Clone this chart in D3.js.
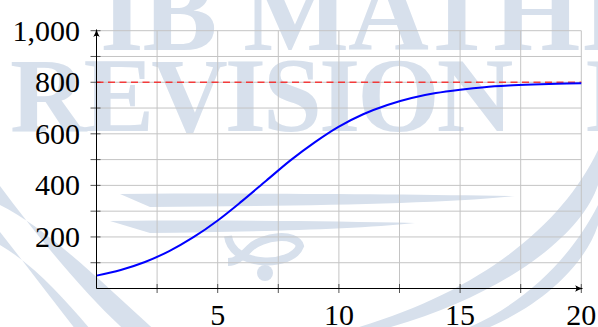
<!DOCTYPE html>
<html><head><meta charset="utf-8">
<script src="https://cdn.jsdelivr.net/npm/d3@7"></script>
<style>html,body{margin:0;padding:0;background:#fff;overflow:hidden}svg{display:block}</style>
</head><body>
<svg id="c" width="598" height="327"></svg>
<script>
// Data
const xValues = [0,1,2,3,4,5,6,7,8,9,10,11,12,13,14,15,16,17,18,19,20];
const yValues = [50,72,103,145,199,264,339,418,497,567,628,676,712,739,758,771,781,787,791,794,796];
const asymptote = 800;
const xTickLabels = [5,10,15,20];
const yTickLabels = [200,400,600,800,1000];
const xGrid = [0,2.5,5,7.5,10,12.5,15,17.5,20];
const yGrid = [0,100,200,300,400,500,600,700,800,900,1000];

const SERIF = '"Liberation Serif"';
const svg = d3.select("#c");
const wm = "#d7e0ec";
const x = d3.scaleLinear().domain([0,20]).range([96.5,581.3]);
const y = d3.scaleLinear().domain([0,1000]).range([288.5,30.7]);

// watermark
const w = svg.append("g");
function wmText(tx, ty, size, ls, s){
  w.append("text").attr("x",tx).attr("y",ty).style("font-family",SERIF).style("font-size",size+"px")
   .style("font-weight","bold").style("letter-spacing",ls+"px").attr("fill",wm).text(s);
}
wmText(100,50,112,-1,"IB MATH");
wmText(581,50,112,0,"I");
wmText(10,131,106,-3,"REVISION");
wmText(584,131,106,0,"I");
const sw = [
 "M0,186 C40,240 90,300 130,335 L160,335 C110,290 50,230 0,205 Z",
 "M0,232 C30,270 60,310 80,335 L95,335 C70,305 35,265 0,245 Z",
 "M598,150 C560,230 470,300 330,335 L360,335 C490,305 580,240 598,185 Z",
 "M598,205 C570,260 520,310 450,335 L470,335 C540,310 585,265 598,225 Z",
 "M120,194 C250,193 400,194 515,196 C440,204 300,206 150,207 Z",
 "M110,221 C220,220 330,221 415,223 C350,230 240,232 150,233 Z"
];
w.selectAll("path.sw").data(sw).join("path").attr("d",d=>d).attr("fill",wm);
w.append("circle").attr("cx",265).attr("cy",273).attr("r",8).attr("fill",wm);
w.append("path").attr("d","M228,236 C232,268 292,268 300,246 C296,232 262,236 250,248 C240,258 236,262 228,262")
 .attr("fill","none").attr("stroke",wm).attr("stroke-width",8);

// grid
const g = svg.append("g");
g.selectAll("line.vx").data(xGrid).join("line")
 .attr("x1",d=>x(d)).attr("x2",d=>x(d)).attr("y1",y(0)).attr("y2",y(1000))
 .attr("stroke","#c4c4c4").attr("stroke-width",1);
g.selectAll("line.hy").data(yGrid).join("line")
 .attr("y1",d=>y(d)).attr("y2",d=>y(d)).attr("x1",x(0)).attr("x2",x(20))
 .attr("stroke","#c4c4c4").attr("stroke-width",1);

// ticks
g.selectAll("line.tx").data(xGrid.slice(1)).join("line")
 .attr("x1",d=>x(d)).attr("x2",d=>x(d)).attr("y1",y(0)-4.5).attr("y2",y(0)+4.5)
 .attr("stroke","#555").attr("stroke-width",1);
g.selectAll("line.ty").data(yGrid.slice(1)).join("line")
 .attr("y1",d=>y(d)).attr("y2",d=>y(d)).attr("x1",x(0)-6).attr("x2",x(0)+4)
 .attr("stroke","#555").attr("stroke-width",1);

// asymptote
svg.append("line").attr("x1",x(0)).attr("x2",x(20)).attr("y1",y(asymptote)).attr("y2",y(asymptote))
 .attr("stroke","#ff0000").attr("stroke-opacity",0.72).attr("stroke-width",1.4).attr("stroke-dasharray","7,4.5");

// curve
const pts = xValues.map((d,i)=>[d,yValues[i]]);
svg.append("path").datum(pts)
 .attr("d",d3.line().x(d=>x(d[0])).y(d=>y(d[1])).curve(d3.curveCatmullRom))
 .attr("fill","none").attr("stroke","#0000ff").attr("stroke-width",2);

// axes with arrows
const defs = svg.append("defs");
defs.append("marker").attr("id","ar").attr("viewBox","0 0 10 10").attr("refX",9).attr("refY",5)
 .attr("markerWidth",8).attr("markerHeight",8).attr("markerUnits","userSpaceOnUse").attr("orient","auto")
 .append("path").attr("d","M0,1 Q5,4 10,5 Q5,6 0,9 Q3,5 0,1 Z").attr("fill","#000");
svg.append("line").attr("x1",x(0)).attr("x2",x(20)+1).attr("y1",y(0)).attr("y2",y(0))
 .attr("stroke","#000").attr("stroke-width",1).attr("marker-end","url(#ar)");
svg.append("line").attr("x1",x(0)).attr("x2",x(0)).attr("y1",y(0)).attr("y2",y(1000)-1)
 .attr("stroke","#000").attr("stroke-width",1).attr("marker-end","url(#ar)");

// labels
const fmt = d3.format(",");
svg.selectAll("text.yl").data(yTickLabels).join("text")
 .attr("x",80).attr("y",d=>y(d)).attr("dy","0.33em").attr("text-anchor","end")
 .style("font-family",SERIF).style("font-size","30px").attr("fill","#000").text(d=>fmt(d));
svg.selectAll("text.xl").data(xTickLabels).join("text")
 .attr("x",d=>x(d)).attr("y",325).attr("text-anchor","middle")
 .style("font-family",SERIF).style("font-size","30px").attr("fill","#000").text(d=>d);
</script>
</body></html>
